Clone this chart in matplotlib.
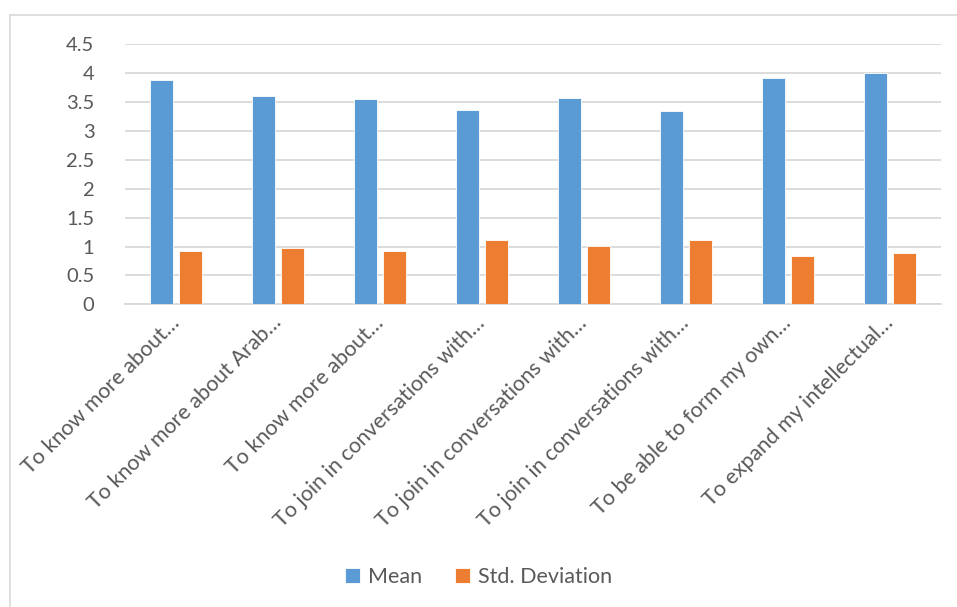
import matplotlib.pyplot as plt
import numpy as np
from matplotlib.lines import Line2D

# Reasons for learning, mean score and standard deviation
reasons = [
    "To know more about…",
    "To know more about Arab…",
    "To know more about…",
    "To join in conversations with…",
    "To join in conversations with…",
    "To join in conversations with…",
    "To be able to form my own…",
    "To expand my intellectual…",
]
mean = [3.87, 3.60, 3.54, 3.36, 3.57, 3.34, 3.91, 3.99]
std_dev = [0.93, 0.97, 0.93, 1.12, 1.01, 1.12, 0.84, 0.88]

yticks = [0, 0.5, 1, 1.5, 2, 2.5, 3, 3.5, 4, 4.5]
ytick_labels = ["0", "0.5", "1", "1.5", "2", "2.5", "3", "3.5", "4", "4.5"]

BLUE = "#5B9BD5"
ORANGE = "#ED7D31"
GRID = "#D9D9D9"
TEXT = "#595959"

plt.rcParams["font.family"] = ["Lato", "DejaVu Sans"]


def main():
    fig = plt.figure(figsize=(9.57, 6.07), dpi=100)
    ax = fig.add_axes([0.1306, 0.4984, 0.8527, 0.4296])

    x = np.arange(len(reasons))
    width = 0.225
    offset = 0.141
    ax.bar(x - offset, mean, width, color=BLUE, edgecolor="white",
           linewidth=0.6, label="Mean", zorder=3)
    ax.bar(x + offset, std_dev, width, color=ORANGE, edgecolor="white",
           linewidth=0.6, label="Std. Deviation", zorder=3)

    ax.set_xlim(-0.5, len(reasons) - 0.5)
    ax.set_ylim(0, 4.5)
    ax.set_yticks(yticks)
    ax.set_yticklabels(ytick_labels)
    ax.yaxis.grid(True, color=GRID, linewidth=1.3, zorder=0)
    ax.set_axisbelow(True)

    ax.set_xticks(x)
    ax.set_xticklabels(reasons, rotation=45, ha="right", va="center",
                       rotation_mode="anchor")

    for side in ["top", "right", "left"]:
        ax.spines[side].set_visible(False)
    ax.spines["bottom"].set_color(GRID)
    ax.spines["bottom"].set_linewidth(1.3)

    ax.tick_params(axis="both", length=0, colors=TEXT)
    ax.tick_params(axis="y", labelsize=14.5, pad=22)
    ax.tick_params(axis="x", labelsize=15.5, pad=11)

    ax.legend(loc="center", bbox_to_anchor=(0.5, 0.049),
              bbox_transform=fig.transFigure, ncol=2, frameon=False,
              fontsize=15.5, labelcolor=TEXT, handlelength=0.7,
              handleheight=0.7, handletextpad=0.4, columnspacing=1.5)

    # light chart border along the top and left edges
    fig.add_artist(Line2D([10 / 957, 1], [1 - 15 / 607, 1 - 15 / 607],
                          transform=fig.transFigure, color=GRID, linewidth=1.2))
    fig.add_artist(Line2D([10 / 957, 10 / 957], [0, 1 - 15 / 607],
                          transform=fig.transFigure, color=GRID, linewidth=1.2))

    fig.savefig("out.png", dpi=100)


if __name__ == "__main__":
    main()
